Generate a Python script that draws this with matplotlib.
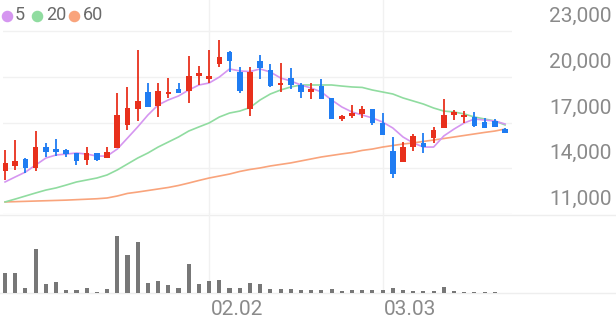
import numpy as np
import matplotlib.pyplot as plt
from matplotlib import transforms
from matplotlib.lines import Line2D

# daily candles
opens = [13820, 14140, 14600, 14010, 15390, 15260, 15190, 14990, 14540, 14990,
         14670, 15320, 16830, 17880, 19000, 18080, 18870, 19200, 19060, 20050,
         19850, 20840, 21620, 20310, 17880, 21030, 20440, 19460, 19920, 19460,
         19000, 19390, 18600, 17230, 17420, 17560, 17880, 16960, 15130, 14410,
         15390, 15650, 15980, 16640, 17490, 17360, 17360, 17030, 17100, 16570]
highs = [15190, 15850, 14670, 16440, 15650, 15920, 15260, 15000, 15390, 15000,
         15390, 18930, 19330, 21750, 19590, 19590, 19920, 19590, 21360, 20700,
         21750, 22410, 21690, 20640, 20640, 21430, 20840, 20900, 20570, 19590,
         19590, 19850, 18600, 17490, 18140, 18080, 17880, 17620, 16050, 15720,
         16240, 16310, 16700, 18540, 17820, 17750, 17690, 17300, 17230, 16640]
lows = [13220, 13880, 13680, 13820, 14730, 14800, 14730, 14210, 14210, 14470,
        14670, 15320, 16500, 17100, 18010, 17360, 18600, 18930, 18280, 19460,
        19590, 20640, 20310, 18930, 17420, 19850, 19330, 19000, 19200, 18600,
        18540, 18540, 17230, 17100, 17300, 17300, 16830, 16180, 13360, 14410,
        15130, 15000, 15650, 16640, 17160, 17000, 16700, 16640, 16700, 16310]
closes = [14340, 14470, 14010, 15390, 15060, 15060, 14930, 14470, 14990, 14540,
          15060, 17490, 17950, 18410, 18010, 19060, 18930, 18930, 20050, 20250,
          20050, 21290, 21030, 19060, 20310, 20570, 19390, 19590, 19460, 19000,
          19200, 18540, 17230, 17420, 17620, 17880, 16960, 16180, 13620, 15390,
          16110, 15390, 16500, 17490, 17690, 17420, 16770, 16640, 16700, 16310]

ma5 = [13100, 13430, 13750, 14210, 14670, 14870, 14930, 15000, 14930, 14800,
       14800, 15260, 15980, 16710, 17490, 18150, 18480, 18740, 19130, 19460,
       19590, 19980, 20510, 20380, 20340, 20510, 20310, 19920, 19720, 19460,
       19260, 19000, 18480, 18020, 17690, 17490, 17300, 17030, 16640, 16050,
       15660, 15390, 15390, 16120, 16570, 16970, 17230, 17160, 17100, 16900]
ma20 = [11790, 11980, 12180, 12380, 12570, 12710, 12900, 13100, 13230, 13360,
        13560, 13890, 14280, 14670, 15000, 15390, 15720, 16050, 16440, 16710,
        16970, 17360, 17620, 17750, 17980, 18480, 18870, 19130, 19330, 19460,
        19460, 19460, 19460, 19390, 19330, 19300, 19130, 19000, 18870, 18610,
        18410, 18210, 17950, 17750, 17690, 17560, 17360, 17230, 17100, 16840]
ma60 = [11790, 11810, 11830, 11850, 11870, 11890, 11910, 11940, 11970, 12000,
        12050, 12180, 12350, 12440, 12540, 12640, 12740, 12870, 13030, 13200,
        13360, 13490, 13620, 13790, 13920, 14020, 14150, 14250, 14350, 14480,
        14610, 14740, 14840, 14940, 15030, 15170, 15260, 15390, 15490, 15590,
        15660, 15760, 15850, 15950, 16050, 16150, 16250, 16350, 16440, 16570]

volumes = [203000, 207000, 50000, 447000, 97000, 110000, 37000, 37000, 50000, 17000,
           40000, 573000, 380000, 513000, 103000, 127000, 87000, 50000, 297000, 93000,
           123000, 137000, 50000, 50000, 103000, 90000, 40000, 43000, 40000, 30000,
           30000, 30000, 45000, 20000, 30000, 30000, 30000, 30000, 55000, 30000,
           20000, 20000, 20000, 65000, 20000, 15000, 15000, 10000, 10000, 7000]

date_labels = ["02.02", "03.03"]
date_idx = [20, 37]
price_ticks = [11000, 14000, 17000, 20000, 23000]
ma_names = ["5", "20", "60"]

RED = "#e8301c"
BLUE = "#1f7cf2"
MA_COLORS = ["#d596f0", "#90dca0", "#f9a47c"]
GRID = "#f1f1f1"
W, H = 616, 321

fig = plt.figure(figsize=(W / 100, H / 100), dpi=100)
plt.rcParams['font.family'] = ['Roboto', 'DejaVu Sans']

ax = fig.add_axes([3 / W, (H - 214) / H, 509 / W, 214 / H])
axv = fig.add_axes([3 / W, (H - 293.3) / H, 509 / W, 79.3 / H])

x = np.arange(len(closes))
o = np.array(opens)
c = np.array(closes)
up = c >= o
colors = np.where(up, RED, BLUE)

# price panel
ax.set_xlim(-0.2, 49.68)
ax.set_ylim(11000, 25033)
for t in price_ticks:
    ax.axhline(t, color=GRID, lw=1, zorder=0)
for i in date_idx:
    ax.axvline(i, color=GRID, lw=1, zorder=0)

ax.vlines(x, lows, highs, colors=colors, lw=1.3, zorder=2)
body_bottom = np.minimum(o, c)
body_h = np.maximum(np.abs(c - o), 100)
ax.bar(x, body_h, bottom=body_bottom, width=0.55, color=colors, lw=0, zorder=3)

for vals, col in zip([ma60, ma20, ma5], MA_COLORS[::-1]):
    ax.plot(x, vals, color=col, lw=1.2, zorder=1)

ax.axis('off')

# right side price labels sit just above their gridlines
lab_tr = transforms.offset_copy(ax.get_yaxis_transform(), fig=fig, y=5, units='dots')
for t in price_ticks:
    ax.text(1.196, t, f"{t:,}", transform=lab_tr, ha='right', va='bottom',
            fontsize=15, color='#8a8a8a')

# volume panel
axv.set_xlim(-0.2, 49.68)
axv.set_ylim(0, max(volumes) * 79.3 / 57.3)
for i in date_idx:
    axv.axvline(i, color=GRID, lw=1, zorder=0)
axv.bar(x, volumes, width=0.4, color="#777777", lw=0, zorder=2)
axv.axis('off')

for i, lab in zip(date_idx, date_labels):
    axv.text(i + 0.15, -0.205, lab, transform=axv.get_xaxis_transform(),
             ha='left', va='center', fontsize=15, color='#8a8a8a')

# full-width lines at top and bottom of volume panel
for yp in [214.5, 293.3]:
    fig.add_artist(Line2D([0, 1], [1 - yp / H, 1 - yp / H], color="#eeeeee",
                          lw=1, transform=fig.transFigure, zorder=0))

# legend
dot_x = [7, 37, 74]
txt_x = [15, 46, 83]
for dx, tx, name, col in zip(dot_x, txt_x, ma_names, MA_COLORS):
    fig.add_artist(Line2D([dx / W], [1 - 15.5 / H], marker='o', markersize=7.3,
                          color=col, lw=0, transform=fig.transFigure))
    fig.text(tx / W, 1 - 15.5 / H, name, ha='left', va='center',
             fontsize=13, color='#6a6a6a')

fig.savefig("out.png", dpi=100)
